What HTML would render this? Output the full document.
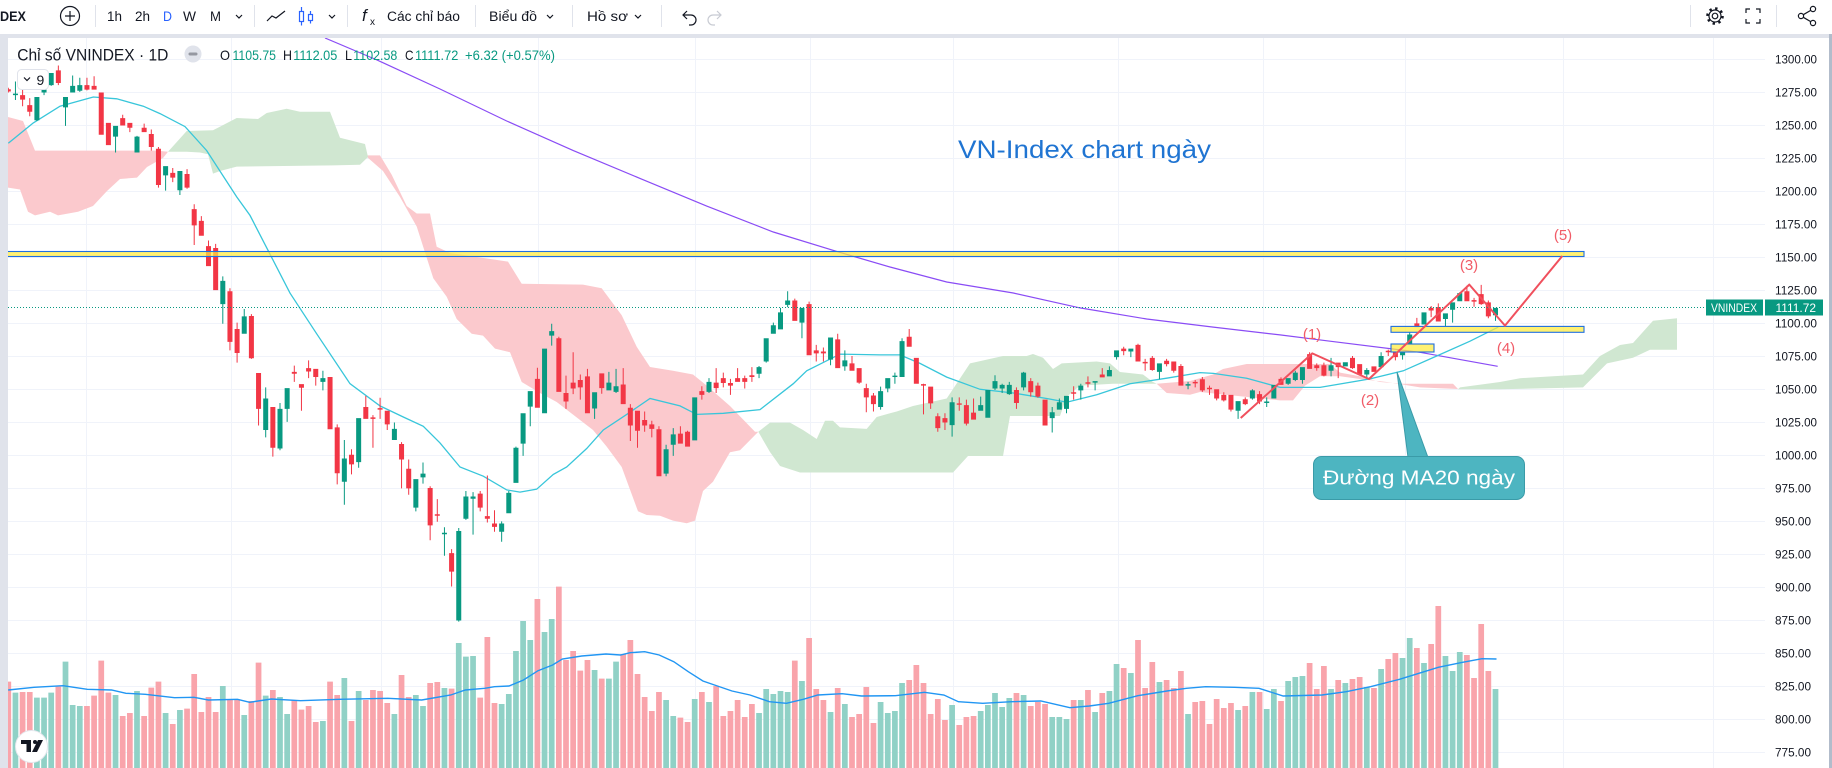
<!DOCTYPE html>
<html><head><meta charset="utf-8"><style>
html,body{margin:0;padding:0;background:#fff;width:1832px;height:768px;overflow:hidden}
svg{display:block}
text{font-family:"Liberation Sans",Arial,sans-serif}
</style></head><body>
<svg width="1832" height="768" viewBox="0 0 1832 768" xmlns="http://www.w3.org/2000/svg">
<defs><clipPath id="c"><rect x="8" y="38" width="1757" height="730"/></clipPath></defs>
<rect width="1832" height="768" fill="#fff"/>
<!-- toolbar -->
<g fill="#131722" font-size="13.5">
<text x="0" y="21" font-weight="bold" textLength="26" lengthAdjust="spacingAndGlyphs">DEX</text>
<text x="107" y="21" textLength="15" lengthAdjust="spacingAndGlyphs">1h</text>
<text x="135" y="21" textLength="15" lengthAdjust="spacingAndGlyphs">2h</text>
<text x="163" y="21" textLength="9" lengthAdjust="spacingAndGlyphs" fill="#2962ff">D</text>
<text x="183" y="21" textLength="13" lengthAdjust="spacingAndGlyphs">W</text>
<text x="210" y="21" textLength="11" lengthAdjust="spacingAndGlyphs">M</text>
<text x="387" y="21" textLength="73" lengthAdjust="spacingAndGlyphs">Các chỉ báo</text>
<text x="489" y="21" textLength="48" lengthAdjust="spacingAndGlyphs">Biểu đồ</text>
<text x="587" y="21" textLength="41" lengthAdjust="spacingAndGlyphs">Hồ sơ</text>
<text x="362" y="21" font-family="Liberation Serif,serif" font-style="italic" font-size="17">f</text>
<text x="370" y="25" font-size="10">x</text>
</g>
<g fill="none" stroke="#131722" stroke-width="1.2">
<circle cx="70" cy="16" r="9.5"/><path d="M65 16h10M70 11v10"/>
<path d="M236 15l3 3 3-3M329 15l3 3 3-3M547 15l3 3 3-3M635 15l3 3 3-3"/>
<path d="M267 21l5-5 4 2 9-7"/>
<path d="M687 11l-4 4 4 4M683 15h8a5 5 0 0 1 0 10h-2"/>
<path d="M717 11l4 4-4 4M721 15h-8a5 5 0 0 0 0 10h2" stroke="#c8cbd3"/>
</g>
<g fill="none" stroke="#2962ff" stroke-width="1.2">
<rect x="299.5" y="11.5" width="4" height="10"/><path d="M301.5 7v4.5M301.5 21.5v4"/>
<rect x="308.5" y="14.5" width="4" height="6"/><path d="M310.5 11v3.5M310.5 20.5v3"/>
</g>
<g stroke="#e0e3eb" stroke-width="1"><path d="M95.5 5v22M254.5 5v22M347.5 5v22M475.5 5v22M572.5 5v22M661.5 5v22M1690.5 5v22M1776.5 5v22"/></g>
<g fill="none" stroke="#131722" stroke-width="1.2">
<circle cx="1715" cy="16" r="2.8"/><circle cx="1715" cy="16" r="6"/>
<circle cx="1715" cy="16" r="7.6" stroke-width="2.4" stroke-dasharray="2.4 3.55"/>
<path d="M1746 13v-4h4M1756 9h4v4M1760 19v4h-4M1750 23h-4v-4"/>
<circle cx="1813" cy="9" r="2.6"/><circle cx="1813" cy="23" r="2.6"/><circle cx="1801" cy="16" r="2.6"/>
<path d="M1803.3 14.7l7.4-4.3M1803.3 17.3l7.4 4.3"/>
</g>
<rect x="0" y="34" width="1832" height="4" fill="#e0e3eb"/>
<rect x="0" y="38" width="8" height="730" fill="#e0e3eb"/>
<rect x="1829" y="34" width="3" height="734" fill="#b2bccb"/>
<!-- grid -->
<g stroke="#f0f3fa" stroke-width="1">
<path d="M8 59.5H1765M8 92.5H1765M8 125.5H1765M8 158.5H1765M8 191.5H1765M8 224.5H1765M8 257.5H1765M8 290.5H1765M8 323.5H1765M8 356.5H1765M8 389.5H1765M8 422.5H1765M8 455.5H1765M8 488.5H1765M8 521.5H1765M8 554.5H1765M8 587.5H1765M8 620.5H1765M8 653.5H1765M8 686.5H1765M8 719.5H1765M8 752.5H1765"/>
<path d="M86.5 38V768M231.5 38V768M381.5 38V768M538.5 38V768M695.5 38V768M810.5 38V768M953.5 38V768M1118.5 38V768M1263.5 38V768M1405.5 38V768M1563.5 38V768M1713.5 38V768"/>
</g>
<!-- price axis -->
<g fill="#131722" font-size="12">
<text x="1775" y="63.5" textLength="42" lengthAdjust="spacingAndGlyphs">1300.00</text>
<text x="1775" y="96.5" textLength="42" lengthAdjust="spacingAndGlyphs">1275.00</text>
<text x="1775" y="129.5" textLength="42" lengthAdjust="spacingAndGlyphs">1250.00</text>
<text x="1775" y="162.5" textLength="42" lengthAdjust="spacingAndGlyphs">1225.00</text>
<text x="1775" y="195.5" textLength="42" lengthAdjust="spacingAndGlyphs">1200.00</text>
<text x="1775" y="228.5" textLength="42" lengthAdjust="spacingAndGlyphs">1175.00</text>
<text x="1775" y="261.5" textLength="42" lengthAdjust="spacingAndGlyphs">1150.00</text>
<text x="1775" y="294.5" textLength="42" lengthAdjust="spacingAndGlyphs">1125.00</text>
<text x="1775" y="327.5" textLength="42" lengthAdjust="spacingAndGlyphs">1100.00</text>
<text x="1775" y="360.5" textLength="42" lengthAdjust="spacingAndGlyphs">1075.00</text>
<text x="1775" y="393.5" textLength="42" lengthAdjust="spacingAndGlyphs">1050.00</text>
<text x="1775" y="426.5" textLength="42" lengthAdjust="spacingAndGlyphs">1025.00</text>
<text x="1775" y="459.5" textLength="42" lengthAdjust="spacingAndGlyphs">1000.00</text>
<text x="1775" y="492.5" textLength="36" lengthAdjust="spacingAndGlyphs">975.00</text>
<text x="1775" y="525.5" textLength="36" lengthAdjust="spacingAndGlyphs">950.00</text>
<text x="1775" y="558.5" textLength="36" lengthAdjust="spacingAndGlyphs">925.00</text>
<text x="1775" y="591.5" textLength="36" lengthAdjust="spacingAndGlyphs">900.00</text>
<text x="1775" y="624.5" textLength="36" lengthAdjust="spacingAndGlyphs">875.00</text>
<text x="1775" y="657.5" textLength="36" lengthAdjust="spacingAndGlyphs">850.00</text>
<text x="1775" y="690.5" textLength="36" lengthAdjust="spacingAndGlyphs">825.00</text>
<text x="1775" y="723.5" textLength="36" lengthAdjust="spacingAndGlyphs">800.00</text>
<text x="1775" y="756.5" textLength="36" lengthAdjust="spacingAndGlyphs">775.00</text>
</g>
<g clip-path="url(#c)">
<!-- clouds -->
<g fill="#fbc9cd">
<polygon points="8,117 23,121 35,150.6 157,150.6 168,151.7 163,158 147,167 137,177.6 120,179 107,191 93,206 78,211.7 58,215.4 50,211.7 35,215.4 28,211.7 20,189.5 8,187.6"/>
<polygon points="367,155.4 380,155.4 391.7,174.7 406.7,206 416.7,213.5 430,213.5 436.7,246.8 450,253 508,261.6 521.7,283.8 583,284.6 601.7,288.3 621.7,315.3 636.7,346.7 650,367 673,370.8 693,374.5 706.7,385.6 730,406 755,431.8 758.3,431.8 740,450.3 730,452.2 713,481.8 703,491 695,520.6 686.7,523.2 673,520.6 660,515.8 646.7,515 638,511.3 621.7,467 606.7,446.6 593,430 556.7,402 540,393 521.7,382 510,352.3 495,348.6 483,335.6 471.7,333.8 456.7,319 446.7,296.8 433.3,278.3 416.7,226.5 400,197 383,171 367,157"/>
<polygon points="1156.7,383.7 1190,381 1213,374.5 1223,369 1246.7,364 1330,364 1340,372.6 1360,376.3 1380,382 1403,383.7 1453,383.7 1458,389 1420,387.4 1386.7,382 1360,379 1340,376.3 1320,376.3 1305,385.6 1293,400.4 1280,400.4 1200,392 1190,394.8 1166.7,393"/>
</g>
<g fill="#d0e7d1">
<polygon points="168,151.7 186.7,131 213,130.3 236.7,118 258,119 266.7,113 286.7,108.8 300,111.8 330,111.8 340,137.7 350,140.3 365,144 368,157 360,164.7 333,165.4 236.7,166.6 220,171 213,173.6 208,154.3 200,152.5 186.7,151.7"/>
<polygon points="758.3,431.8 770,422.6 790,422.6 803,430 816.7,439 825,420.7 833,420.7 840,427.4 866.7,428.9 876.7,417 890,413.3 896.7,411.5 913,406 946.7,398.5 970,363.4 1003,356 1026.7,356 1033,354 1043,357.8 1053,369 1061.7,363.4 1096.7,361.5 1110,363.4 1120,372 1143,374.5 1153,382 1156.7,383.7 1113,383.7 1080,385.6 1066.7,396.7 1060,416 1010,416 1003,456 968,456 953,472.5 800,472.5 780,466 770,452"/>
<polygon points="1458,389.3 1460,387.4 1500,382 1520,378.2 1553,376.3 1583,374.5 1600,356 1620,345 1633,343 1653,320.8 1677,318.2 1677,349.7 1650,349.7 1633,357.8 1607,363.4 1583,387.4 1500,389.3"/>
</g>
<!-- volume -->
<g transform="translate(8.3 580) scale(7.15 0.333333)">
<path fill="#f9a4ab" d="M-.4 305h.8V564h-.8zM1.6 336h.8V564h-.8zM2.6 336h.8V564h-.8zM6.6 320h.8V564h-.8zM10.6 378h.8V564h-.8zM11.6 347h.8V564h-.8zM12.6 242h.8V564h-.8zM13.6 338h.8V564h-.8zM15.6 408h.8V564h-.8zM16.6 399h.8V564h-.8zM18.6 408h.8V564h-.8zM19.6 323h.8V564h-.8zM20.6 305h.8V564h-.8zM22.6 432h.8V564h-.8zM24.6 386h.8V564h-.8zM25.6 282h.8V564h-.8zM26.6 396h.8V564h-.8zM27.6 351h.8V564h-.8zM28.6 396h.8V564h-.8zM30.6 360h.8V564h-.8zM31.6 358h.8V564h-.8zM33.6 363h.8V564h-.8zM34.6 248h.8V564h-.8zM36.6 330h.8V564h-.8zM39.6 360h.8V564h-.8zM40.6 389h.8V564h-.8zM41.6 378h.8V564h-.8zM42.6 426h.8V564h-.8zM44.6 305h.8V564h-.8zM45.6 345h.8V564h-.8zM47.6 423h.8V564h-.8zM49.6 360h.8V564h-.8zM50.6 330h.8V564h-.8zM51.6 333h.8V564h-.8zM52.6 369h.8V564h-.8zM54.6 285h.8V564h-.8zM55.6 351h.8V564h-.8zM58.6 309h.8V564h-.8zM59.6 306h.8V564h-.8zM61.6 326h.8V564h-.8zM65.6 353h.8V564h-.8zM66.6 171h.8V564h-.8zM67.6 369h.8V564h-.8zM73.6 57h.8V564h-.8zM76.6 20h.8V564h-.8zM77.6 240h.8V564h-.8zM78.6 213h.8V564h-.8zM79.6 272h.8V564h-.8zM80.6 240h.8V564h-.8zM82.6 296h.8V564h-.8zM85.6 222h.8V564h-.8zM86.6 180h.8V564h-.8zM87.6 282h.8V564h-.8zM88.6 351h.8V564h-.8zM89.6 393h.8V564h-.8zM90.6 336h.8V564h-.8zM93.6 413h.8V564h-.8zM94.6 426h.8V564h-.8zM96.6 336h.8V564h-.8zM98.6 318h.8V564h-.8zM99.6 408h.8V564h-.8zM100.6 393h.8V564h-.8zM101.6 360h.8V564h-.8zM102.6 411h.8V564h-.8zM103.6 372h.8V564h-.8zM109.6 242h.8V564h-.8zM111.6 174h.8V564h-.8zM112.6 327h.8V564h-.8zM113.6 360h.8V564h-.8zM115.6 324h.8V564h-.8zM117.6 411h.8V564h-.8zM118.6 402h.8V564h-.8zM119.6 321h.8V564h-.8zM120.6 429h.8V564h-.8zM125.6 300h.8V564h-.8zM126.6 255h.8V564h-.8zM127.6 309h.8V564h-.8zM128.6 402h.8V564h-.8zM129.6 357h.8V564h-.8zM130.6 420h.8V564h-.8zM132.6 435h.8V564h-.8zM133.6 411h.8V564h-.8zM134.6 408h.8V564h-.8zM140.6 339h.8V564h-.8zM142.6 378h.8V564h-.8zM143.6 366h.8V564h-.8zM144.6 372h.8V564h-.8zM148.6 360h.8V564h-.8zM150.6 330h.8V564h-.8zM152.6 339h.8V564h-.8zM155.6 264h.8V564h-.8zM157.6 180h.8V564h-.8zM158.6 324h.8V564h-.8zM159.6 246h.8V564h-.8zM161.6 300h.8V564h-.8zM162.6 324h.8V564h-.8zM163.6 273h.8V564h-.8zM165.6 366h.8V564h-.8zM166.6 363h.8V564h-.8zM167.6 432h.8V564h-.8zM168.6 357h.8V564h-.8zM169.6 384h.8V564h-.8zM170.6 369h.8V564h-.8zM172.6 378h.8V564h-.8zM174.6 336h.8V564h-.8zM177.6 363h.8V564h-.8zM181.6 249h.8V564h-.8zM182.6 327h.8V564h-.8zM183.6 258h.8V564h-.8zM185.6 300h.8V564h-.8zM187.6 297h.8V564h-.8zM188.6 291h.8V564h-.8zM190.6 324h.8V564h-.8zM192.6 237h.8V564h-.8zM193.6 219h.8V564h-.8zM196.6 204h.8V564h-.8zM198.6 192h.8V564h-.8zM199.6 78h.8V564h-.8zM203.6 225h.8V564h-.8zM204.6 294h.8V564h-.8zM205.6 132h.8V564h-.8zM206.6 273h.8V564h-.8z"/>
<path fill="#90d1c6" d="M.6 338h.8V564h-.8zM3.6 353h.8V564h-.8zM4.6 353h.8V564h-.8zM5.6 338h.8V564h-.8zM7.6 245h.8V564h-.8zM8.6 375h.8V564h-.8zM9.6 378h.8V564h-.8zM14.6 345h.8V564h-.8zM17.6 333h.8V564h-.8zM21.6 399h.8V564h-.8zM23.6 390h.8V564h-.8zM29.6 318h.8V564h-.8zM32.6 405h.8V564h-.8zM35.6 347h.8V564h-.8zM37.6 351h.8V564h-.8zM38.6 402h.8V564h-.8zM43.6 423h.8V564h-.8zM46.6 294h.8V564h-.8zM48.6 333h.8V564h-.8zM53.6 402h.8V564h-.8zM56.6 345h.8V564h-.8zM57.6 378h.8V564h-.8zM60.6 324h.8V564h-.8zM62.6 189h.8V564h-.8zM63.6 230h.8V564h-.8zM64.6 228h.8V564h-.8zM68.6 372h.8V564h-.8zM69.6 342h.8V564h-.8zM70.6 213h.8V564h-.8zM71.6 123h.8V564h-.8zM72.6 180h.8V564h-.8zM74.6 156h.8V564h-.8zM75.6 117h.8V564h-.8zM81.6 270h.8V564h-.8zM83.6 296h.8V564h-.8zM84.6 245h.8V564h-.8zM91.6 360h.8V564h-.8zM92.6 408h.8V564h-.8zM95.6 357h.8V564h-.8zM97.6 366h.8V564h-.8zM104.6 399h.8V564h-.8zM105.6 327h.8V564h-.8zM106.6 342h.8V564h-.8zM107.6 333h.8V564h-.8zM108.6 336h.8V564h-.8zM110.6 303h.8V564h-.8zM114.6 396h.8V564h-.8zM116.6 372h.8V564h-.8zM121.6 366h.8V564h-.8zM122.6 399h.8V564h-.8zM123.6 393h.8V564h-.8zM124.6 309h.8V564h-.8zM131.6 375h.8V564h-.8zM135.6 393h.8V564h-.8zM136.6 375h.8V564h-.8zM137.6 339h.8V564h-.8zM138.6 381h.8V564h-.8zM139.6 354h.8V564h-.8zM141.6 345h.8V564h-.8zM145.6 411h.8V564h-.8zM146.6 411h.8V564h-.8zM147.6 417h.8V564h-.8zM149.6 360h.8V564h-.8zM151.6 396h.8V564h-.8zM153.6 333h.8V564h-.8zM154.6 252h.8V564h-.8zM156.6 279h.8V564h-.8zM160.6 306h.8V564h-.8zM164.6 402h.8V564h-.8zM171.6 390h.8V564h-.8zM173.6 336h.8V564h-.8zM175.6 387h.8V564h-.8zM176.6 327h.8V564h-.8zM178.6 303h.8V564h-.8zM179.6 291h.8V564h-.8zM180.6 288h.8V564h-.8zM184.6 327h.8V564h-.8zM186.6 309h.8V564h-.8zM189.6 321h.8V564h-.8zM191.6 267h.8V564h-.8zM194.6 234h.8V564h-.8zM195.6 174h.8V564h-.8zM197.6 249h.8V564h-.8zM200.6 228h.8V564h-.8zM201.6 273h.8V564h-.8zM202.6 216h.8V564h-.8zM207.6 327h.8V564h-.8z"/>
</g>
<polyline fill="none" stroke="#2196f3" stroke-width="1.4" points="8.2,690 34,687.3 63,685.7 87.3,689.3 111.5,690 126,693.3 145.4,694.3 174.5,697.7 194,697.3 208.4,700 237.5,699.3 249.6,702.3 271.4,699 300.5,700.7 339.3,699.3 387.8,698.3 421.7,700 450.8,695 465.3,690 484.7,688.3 494.4,686.7 509,686 523.5,680 538,670.7 552.6,665 562.3,659 581.7,656 606,654 620.5,655 630.2,652.7 644.7,651.7 659.2,655 673.8,661.7 688.3,671.7 702.9,681 717.4,686 732,691 750,695 769.4,701.7 786.4,703.3 803.3,699.3 817.9,695 842.1,693.7 861.5,696 895.4,695.7 924.5,692.3 943.9,695 958.4,701.7 982.7,703.3 1011.8,701.7 1040.8,701 1069.9,707.7 1089.3,706 1108.7,703.3 1137.8,695.7 1166.9,691 1186.3,688.3 1205.6,686.7 1234.7,687.3 1259,688.3 1283.2,696 1322,695 1346.2,691.7 1370.5,686.7 1399.5,679.3 1418.9,673.3 1438.3,667.3 1462.6,662.3 1482,658.7 1496.5,659"/>
<!-- MAs -->
<polyline fill="none" stroke="#8a4cf5" stroke-width="1.2" points="325,38 377,60 440,89 506.7,121 573.3,150.6 640,178.4 706.7,206.1 773.3,232 840,252.4 890,267 946.7,282 1013.3,293 1080,307.9 1146.7,319 1213.3,327.1 1280,334.9 1330,341.2 1420,352.3 1497.7,366.3"/>
<polyline fill="none" stroke="#38c6da" stroke-width="1.3" points="8.3,143.2 33.3,122.9 60,106.2 93.3,97 116.7,98.8 143.3,106.2 160,113.6 185,126.6 206.7,150.6 236.7,196.9 250,215.4 270,254.2 290,293.1 316.7,333.8 350,383.7 380,405.9 403.3,417 423.3,426.3 440,442.9 460,467 483.3,476.2 506.7,489.9 520,492.1 536.7,489.2 553.3,474.4 566.7,467 586.7,448.5 603.3,430 626.7,414.4 650,398.5 680,405.9 696.7,414.4 723.3,413.3 760,409.6 793.3,383.7 806.7,370.8 840,354.1 880,354.9 900,354.9 920,363.4 946.7,377.1 980,389.3 1013.3,393 1046.7,398.5 1066.7,402.2 1096.7,394.8 1130,383.7 1166.7,378.2 1200,372.6 1213.3,373.4 1246.7,378.2 1280,387.4 1320,387.4 1370,378.9 1403.3,370.8 1436.7,356 1470,341.2 1498.3,327.1"/>
<!-- candles -->
<g transform="translate(8.3 60) scale(7.15 0.36996)">
<path fill="#f23645" d="M-.35 79h.7V85h-.7zM-.07 75h.14V88h-.14zM1.65 95h.7V107h-.7zM1.93 75h.14V125h-.14zM2.65 122h.7V140h-.7zM2.93 103h.14V152h-.14zM6.65 28h.7V62h-.7zM6.93 15h.14V68h-.14zM10.65 68h.7V80h-.7zM10.93 48h.14V82h-.14zM11.65 70h.7V80h-.7zM11.93 44h.14V80h-.14zM12.65 88h.7V202h-.7zM13.65 170h.7V230h-.7zM15.65 157h.7V177h-.7zM15.93 148h.14V177h-.14zM16.65 170h.7V183h-.7zM16.93 170h.14V195h-.14zM18.65 183h.7V195h-.7zM18.93 172h.14V195h-.14zM19.65 200h.7V235h-.7zM19.93 188h.14V245h-.14zM20.65 240h.7V338h-.7zM20.93 235h.14V345h-.14zM22.65 305h.7V318h-.7zM22.93 292h.14V330h-.14zM24.65 308h.7V345h-.7zM24.93 295h.14V348h-.14zM25.65 403h.7V447h-.7zM25.93 390h.14V500h-.14zM26.65 435h.7V475h-.7zM26.93 422h.14V475h-.14zM27.65 503h.7V557h-.7zM27.93 488h.14V557h-.14zM28.65 508h.7V622h-.7zM28.93 497h.14V622h-.14zM30.65 625h.7V762h-.7zM30.93 617h.14V785h-.14zM31.65 727h.7V792h-.7zM31.93 710h.14V818h-.14zM33.65 692h.7V806h-.7zM33.93 687h.14V808h-.14zM34.65 846h.7V943h-.7zM34.93 846h.14V988h-.14zM36.65 938h.7V1048h-.7zM36.93 938h.14V1072h-.14zM39.65 843h.7V848h-.7zM39.93 826h.14V870h-.14zM40.65 876h.7V886h-.7zM40.93 876h.14V948h-.14zM41.65 833h.7V842h-.7zM41.93 812h.14V860h-.14zM42.65 835h.7V857h-.7zM42.93 835h.14V880h-.14zM44.65 857h.7V998h-.7zM45.65 993h.7V1117h-.7zM45.93 985h.14V1147h-.14zM47.65 1067h.7V1093h-.7zM47.93 1052h.14V1120h-.14zM49.65 938h.7V970h-.7zM49.93 908h.14V970h-.14zM50.65 966h.7V970h-.7zM50.93 960h.14V1048h-.14zM51.65 941h.7V945h-.7zM51.93 913h.14V970h-.14zM52.65 948h.7V985h-.7zM52.93 948h.14V1000h-.14zM54.65 1038h.7V1080h-.7zM54.93 1033h.14V1158h-.14zM55.65 1105h.7V1158h-.7zM55.93 1080h.14V1175h-.14zM58.65 1157h.7V1258h-.7zM58.93 1152h.14V1298h-.14zM59.65 1228h.7V1232h-.7zM59.93 1187h.14V1248h-.14zM61.65 1333h.7V1383h-.7zM61.93 1322h.14V1423h-.14zM65.65 1172h.7V1210h-.7zM65.93 1165h.14V1220h-.14zM66.65 1233h.7V1240h-.7zM66.93 1123h.14V1250h-.14zM67.65 1253h.7V1262h-.7zM67.93 1217h.14V1275h-.14zM73.65 862h.7V940h-.7zM73.93 832h.14V940h-.14zM76.65 752h.7V897h-.7zM76.93 748h.14V897h-.14zM77.65 900h.7V923h-.7zM77.93 853h.14V943h-.14zM78.65 872h.7V888h-.7zM78.93 790h.14V903h-.14zM79.65 865h.7V885h-.7zM79.93 850h.14V918h-.14zM80.65 855h.7V955h-.7zM80.93 835h.14V955h-.14zM82.65 847h.7V887h-.7zM82.93 847h.14V902h-.14zM85.65 877h.7V930h-.7zM85.93 833h.14V930h-.14zM86.65 940h.7V988h-.7zM86.93 930h.14V1030h-.14zM87.65 948h.7V1002h-.7zM87.93 948h.14V1048h-.14zM88.65 973h.7V988h-.7zM88.93 950h.14V1005h-.14zM89.65 985h.7V997h-.7zM89.93 975h.14V1020h-.14zM90.65 998h.7V1125h-.7zM90.93 990h.14V1125h-.14zM93.65 1010h.7V1037h-.7zM93.93 990h.14V1037h-.14zM94.65 1005h.7V1045h-.7zM94.93 1002h.14V1045h-.14zM96.65 895h.7V905h-.7zM96.93 882h.14V918h-.14zM98.65 872h.7V887h-.7zM98.93 833h.14V900h-.14zM99.65 860h.7V873h-.7zM99.93 845h.14V885h-.14zM100.65 873h.7V880h-.7zM100.93 862h.14V905h-.14zM101.65 860h.7V870h-.7zM101.93 833h.14V870h-.14zM102.65 860h.7V870h-.7zM102.93 853h.14V888h-.14zM103.65 852h.7V857h-.7zM103.93 830h.14V870h-.14zM109.65 650h.7V705h-.7zM109.93 645h.14V705h-.14zM111.65 660h.7V798h-.7zM111.93 653h.14V798h-.14zM112.65 785h.7V793h-.7zM112.93 770h.14V815h-.14zM113.65 788h.7V793h-.7zM113.93 777h.14V815h-.14zM115.65 755h.7V833h-.7zM115.93 740h.14V833h-.14zM117.65 820h.7V840h-.7zM117.93 800h.14V840h-.14zM118.65 833h.7V872h-.7zM118.93 833h.14V875h-.14zM119.65 887h.7V912h-.7zM119.93 875h.14V952h-.14zM120.65 907h.7V930h-.7zM120.93 900h.14V950h-.14zM125.65 748h.7V775h-.7zM125.93 727h.14V775h-.14zM126.65 805h.7V875h-.7zM127.65 876h.7V880h-.7zM127.93 875h.14V958h-.14zM128.65 883h.7V928h-.7zM128.93 883h.14V943h-.14zM129.65 963h.7V995h-.7zM129.93 955h.14V1005h-.14zM130.65 968h.7V980h-.7zM130.93 955h.14V1000h-.14zM132.65 928h.7V932h-.7zM132.93 912h.14V948h-.14zM133.65 933h.7V983h-.7zM133.93 918h.14V988h-.14zM134.65 953h.7V972h-.7zM134.93 915h.14V972h-.14zM140.65 892h.7V927h-.7zM140.93 885h.14V943h-.14zM142.65 868h.7V898h-.7zM142.93 860h.14V910h-.14zM143.65 880h.7V910h-.7zM143.93 872h.14V913h-.14zM144.65 918h.7V988h-.7zM148.65 898h.7V902h-.7zM148.93 882h.14V918h-.14zM150.65 871h.7V875h-.7zM150.93 855h.14V885h-.14zM152.65 850h.7V858h-.7zM152.93 833h.14V858h-.14zM155.65 780h.7V787h-.7zM155.93 775h.14V798h-.14zM157.65 770h.7V815h-.7zM157.93 767h.14V815h-.14zM158.65 816h.7V820h-.7zM158.93 808h.14V840h-.14zM159.65 805h.7V838h-.7zM159.93 800h.14V840h-.14zM161.65 813h.7V822h-.7zM161.93 808h.14V828h-.14zM162.65 815h.7V840h-.7zM162.93 815h.14V845h-.14zM163.65 827h.7V880h-.7zM163.93 822h.14V880h-.14zM165.65 870h.7V874h-.7zM165.93 865h.14V885h-.14zM166.65 863h.7V893h-.7zM166.93 857h.14V897h-.14zM167.65 886h.7V890h-.7zM167.93 880h.14V905h-.14zM168.65 890h.7V915h-.7zM168.93 890h.14V920h-.14zM169.65 905h.7V920h-.7zM169.93 898h.14V923h-.14zM170.65 905h.7V945h-.7zM170.93 905h.14V950h-.14zM172.65 917h.7V930h-.7zM172.93 912h.14V933h-.14zM174.65 903h.7V923h-.7zM174.93 895h.14V930h-.14zM177.65 862h.7V878h-.7zM177.93 858h.14V878h-.14zM181.65 795h.7V835h-.7zM181.93 790h.14V835h-.14zM182.65 825h.7V833h-.7zM182.93 820h.14V840h-.14zM183.65 825h.7V853h-.7zM183.93 818h.14V855h-.14zM185.65 818h.7V830h-.7zM185.93 818h.14V860h-.14zM187.65 805h.7V833h-.7zM187.93 800h.14V835h-.14zM188.65 822h.7V850h-.7zM190.65 828h.7V843h-.7zM192.65 786h.7V790h-.7zM192.93 783h.14V800h-.14zM193.65 788h.7V803h-.7zM193.93 788h.14V812h-.14zM196.65 712h.7V722h-.7zM196.93 697h.14V722h-.14zM198.65 670h.7V677h-.7zM198.93 665h.14V695h-.14zM199.65 668h.7V707h-.7zM199.93 658h.14V707h-.14zM203.65 625h.7V652h-.7zM203.93 610h.14V652h-.14zM204.65 649h.7V653h-.7zM204.93 643h.14V667h-.14zM205.65 633h.7V660h-.7zM205.93 608h.14V662h-.14zM206.65 655h.7V693h-.7zM206.93 650h.14V698h-.14z"/>
<path fill="#089981" d="M.65 91h.7V95h-.7zM.93 58h.14V108h-.14zM3.65 100h.7V163h-.7zM3.93 100h.14V165h-.14zM4.65 80h.7V88h-.7zM4.93 65h.14V95h-.14zM5.65 35h.7V68h-.7zM5.93 35h.14V70h-.14zM7.65 100h.7V128h-.7zM7.93 100h.14V178h-.14zM8.65 70h.7V88h-.7zM8.93 42h.14V88h-.14zM9.65 68h.7V83h-.7zM9.93 48h.14V86h-.14zM14.65 178h.7V207h-.7zM14.93 178h.14V250h-.14zM17.65 207h.7V250h-.7zM17.93 205h.14V250h-.14zM21.65 287h.7V312h-.7zM21.93 287h.14V353h-.14zM23.65 300h.7V352h-.7zM23.93 300h.14V365h-.14zM29.65 597h.7V660h-.7zM29.93 585h.14V713h-.14zM32.65 693h.7V740h-.7zM32.93 673h.14V740h-.14zM35.65 915h.7V1000h-.7zM35.93 885h.14V1020h-.14zM37.65 943h.7V1050h-.7zM37.93 927h.14V1055h-.14zM38.65 887h.7V943h-.7zM38.93 887h.14V978h-.14zM43.65 860h.7V870h-.7zM43.93 840h.14V893h-.14zM46.65 1077h.7V1140h-.7zM46.93 1027h.14V1202h-.14zM48.65 968h.7V1087h-.7zM48.93 968h.14V1102h-.14zM53.65 997h.7V1027h-.7zM53.93 980h.14V1027h-.14zM56.65 1133h.7V1210h-.7zM56.93 1133h.14V1220h-.14zM57.65 1118h.7V1128h-.7zM57.93 1088h.14V1145h-.14zM60.65 1278h.7V1282h-.7zM60.93 1263h.14V1340h-.14zM62.65 1273h.7V1515h-.7zM62.93 1265h.14V1518h-.14zM63.65 1180h.7V1240h-.7zM63.93 1165h.14V1243h-.14zM64.65 1180h.7V1186h-.7zM64.93 1168h.14V1283h-.14zM68.65 1253h.7V1275h-.7zM68.93 1247h.14V1302h-.14zM69.65 1170h.7V1225h-.7zM69.93 1165h.14V1225h-.14zM70.65 1048h.7V1143h-.7zM70.93 1045h.14V1143h-.14zM71.65 955h.7V1037h-.7zM71.93 955h.14V1070h-.14zM72.65 895h.7V937h-.7zM72.93 895h.14V990h-.14zM74.65 780h.7V955h-.7zM75.65 733h.7V745h-.7zM75.93 713h.14V772h-.14zM81.65 898h.7V942h-.7zM81.93 898h.14V970h-.14zM83.65 872h.7V893h-.7zM83.93 843h.14V893h-.14zM84.65 882h.7V897h-.7zM84.93 835h.14V900h-.14zM91.65 1052h.7V1118h-.7zM91.93 1040h.14V1125h-.14zM92.65 1012h.7V1040h-.7zM92.93 995h.14V1070h-.14zM95.65 912h.7V1028h-.7zM97.65 870h.7V897h-.7zM97.93 860h.14V900h-.14zM104.65 830h.7V848h-.7zM104.93 827h.14V860h-.14zM105.65 752h.7V815h-.7zM105.93 752h.14V818h-.14zM106.65 717h.7V740h-.7zM106.93 710h.14V740h-.14zM107.65 682h.7V728h-.7zM107.93 670h.14V728h-.14zM108.65 650h.7V662h-.7zM108.93 625h.14V668h-.14zM110.65 670h.7V710h-.7zM110.93 670h.14V752h-.14zM114.65 750h.7V810h-.7zM114.93 750h.14V825h-.14zM116.65 812h.7V828h-.7zM116.93 785h.14V840h-.14zM121.65 895h.7V938h-.7zM121.93 883h.14V945h-.14zM122.65 860h.7V888h-.7zM122.93 860h.14V898h-.14zM123.65 853h.7V857h-.7zM123.93 845h.14V875h-.14zM124.65 760h.7V857h-.7zM124.93 752h.14V857h-.14zM131.65 925h.7V987h-.7zM131.93 912h.14V1018h-.14zM135.65 933h.7V948h-.7zM135.93 910h.14V948h-.14zM136.65 892h.7V967h-.7zM137.65 868h.7V888h-.7zM137.93 852h.14V892h-.14zM138.65 878h.7V888h-.7zM138.93 875h.14V900h-.14zM139.65 878h.7V903h-.7zM139.93 870h.14V905h-.14zM141.65 845h.7V885h-.7zM141.93 843h.14V893h-.14zM145.65 952h.7V968h-.7zM145.93 938h.14V1007h-.14zM146.65 925h.7V945h-.7zM146.93 915h.14V945h-.14zM147.65 908h.7V943h-.7zM147.93 908h.14V955h-.14zM149.65 880h.7V893h-.7zM149.93 875h.14V918h-.14zM151.65 868h.7V872h-.7zM151.93 868h.14V893h-.14zM153.65 838h.7V855h-.7zM153.93 828h.14V855h-.14zM154.65 785h.7V803h-.7zM154.93 785h.14V810h-.14zM156.65 780h.7V788h-.7zM156.93 780h.14V803h-.14zM160.65 820h.7V843h-.7zM160.93 820h.14V863h-.14zM164.65 876h.7V880h-.7zM164.93 870h.14V890h-.14zM171.65 922h.7V948h-.7zM171.93 922h.14V970h-.14zM173.65 893h.7V915h-.7zM173.93 890h.14V918h-.14zM175.65 923h.7V927h-.7zM175.93 912h.14V938h-.14zM176.65 878h.7V915h-.7zM178.65 860h.7V875h-.7zM178.93 860h.14V878h-.14zM179.65 845h.7V865h-.7zM179.93 840h.14V868h-.14zM180.65 830h.7V865h-.7zM180.93 830h.14V875h-.14zM184.65 825h.7V840h-.7zM184.93 805h.14V855h-.14zM186.65 817h.7V828h-.7zM189.65 838h.7V850h-.7zM189.93 833h.14V862h-.14zM191.65 800h.7V830h-.7zM191.93 790h.14V830h-.14zM194.65 790h.7V798h-.7zM194.93 790h.14V810h-.14zM195.65 742h.7V768h-.7zM195.93 735h.14V768h-.14zM197.65 682h.7V715h-.7zM200.65 685h.7V700h-.7zM200.93 685h.14V720h-.14zM201.65 655h.7V675h-.7zM201.93 655h.14V710h-.14zM202.65 630h.7V652h-.7zM202.93 628h.14V652h-.14zM207.65 670h.7V690h-.7zM207.93 670h.14V705h-.14z"/>
</g>
<!-- price line -->
<path d="M8 307.5H1706" stroke="#089981" stroke-width="1" stroke-dasharray="1 2"/>
<!-- annotations -->
<g fill="rgba(255,235,59,0.72)" stroke="#1e6ee0" stroke-width="1.1">
<rect x="4" y="251.5" width="1580" height="5"/>
<rect x="1391" y="326.4" width="193" height="5.9"/>
<rect x="1391" y="344" width="43" height="8"/>
</g>
<polyline fill="none" stroke="#f0505d" stroke-width="2" stroke-linejoin="round" points="1240.7,418 1312.3,353.4 1369,379 1469.3,284.6 1505,325.6 1562.3,256"/>
<g fill="#f15b67" font-size="15" text-anchor="middle" font-family="DejaVu Sans,sans-serif">
<text x="1312" y="339">(1)</text>
<text x="1370" y="405">(2)</text>
<text x="1469" y="270">(3)</text>
<text x="1506" y="353">(4)</text>
<text x="1563" y="240">(5)</text>
</g>
<polygon points="1408,457.5 1428,457.5 1397,372" fill="#4db5c1" stroke="#3a9ba8" stroke-width="1"/>
<rect x="1313.5" y="456.5" width="211" height="43" rx="8" fill="#4db5c1" stroke="#3a9ba8" stroke-width="1"/>
<rect x="1406" y="458" width="24" height="4" fill="#4db5c1"/>
<text x="1323" y="484.5" fill="#fff" font-size="20.5" font-family="DejaVu Sans,sans-serif" textLength="192" lengthAdjust="spacingAndGlyphs">Đường MA20 ngày</text>
<text x="958" y="158" fill="#1f74d2" font-size="25" font-family="DejaVu Sans,sans-serif" textLength="253" lengthAdjust="spacingAndGlyphs">VN-Index chart ngày</text>
</g>
<!-- price tag -->
<rect x="1706" y="299.5" width="57" height="16" fill="#089981"/>
<rect x="1765" y="299.5" width="58" height="16" fill="#089981"/>
<text x="1711" y="312" fill="#fff" font-size="12" textLength="46" lengthAdjust="spacingAndGlyphs">VNINDEX</text>
<text x="1775.5" y="312" fill="#fff" font-size="12" textLength="40.5" lengthAdjust="spacingAndGlyphs">1111.72</text>
<!-- legend -->
<text x="17.3" y="60.5" fill="#131722" font-size="17" textLength="151" lengthAdjust="spacingAndGlyphs">Chỉ số VNINDEX · 1D</text>
<circle cx="193" cy="54" r="8.5" fill="#e0e3eb"/>
<rect x="188.5" y="52.5" width="9" height="3" rx="1.5" fill="#9598a1"/>
<g font-size="14">
<text x="220" y="60" fill="#131722" textLength="10" lengthAdjust="spacingAndGlyphs">O</text>
<text x="232.5" y="60" fill="#089981" textLength="43.5" lengthAdjust="spacingAndGlyphs">1105.75</text>
<text x="283" y="60" fill="#131722" textLength="9" lengthAdjust="spacingAndGlyphs">H</text>
<text x="293.3" y="60" fill="#089981" textLength="44" lengthAdjust="spacingAndGlyphs">1112.05</text>
<text x="345" y="60" fill="#131722" textLength="7" lengthAdjust="spacingAndGlyphs">L</text>
<text x="353.3" y="60" fill="#089981" textLength="44" lengthAdjust="spacingAndGlyphs">1102.58</text>
<text x="405" y="60" fill="#131722" textLength="8.5" lengthAdjust="spacingAndGlyphs">C</text>
<text x="415" y="60" fill="#089981" textLength="43.3" lengthAdjust="spacingAndGlyphs">1111.72</text>
<text x="465" y="60" fill="#089981" textLength="90" lengthAdjust="spacingAndGlyphs">+6.32 (+0.57%)</text>
</g>
<rect x="17.5" y="69.5" width="31" height="20" rx="4" fill="#fff" stroke="#e0e3eb"/>
<path d="M24 77.5l3 3 3-3" fill="none" stroke="#131722" stroke-width="1.2"/>
<text x="36.5" y="85" fill="#131722" font-size="14">9</text>
<!-- TV logo -->
<circle cx="31.5" cy="746.5" r="16" fill="#fff" stroke="#e6e8ee"/>
<g fill="#131722">
<rect x="21" y="740" width="10" height="4"/><rect x="26.5" y="740" width="4.5" height="12"/>
<circle cx="35" cy="742" r="2"/><polygon points="38,740 43,740 37,752 32,752"/>
</g>
</svg>
</body></html>
